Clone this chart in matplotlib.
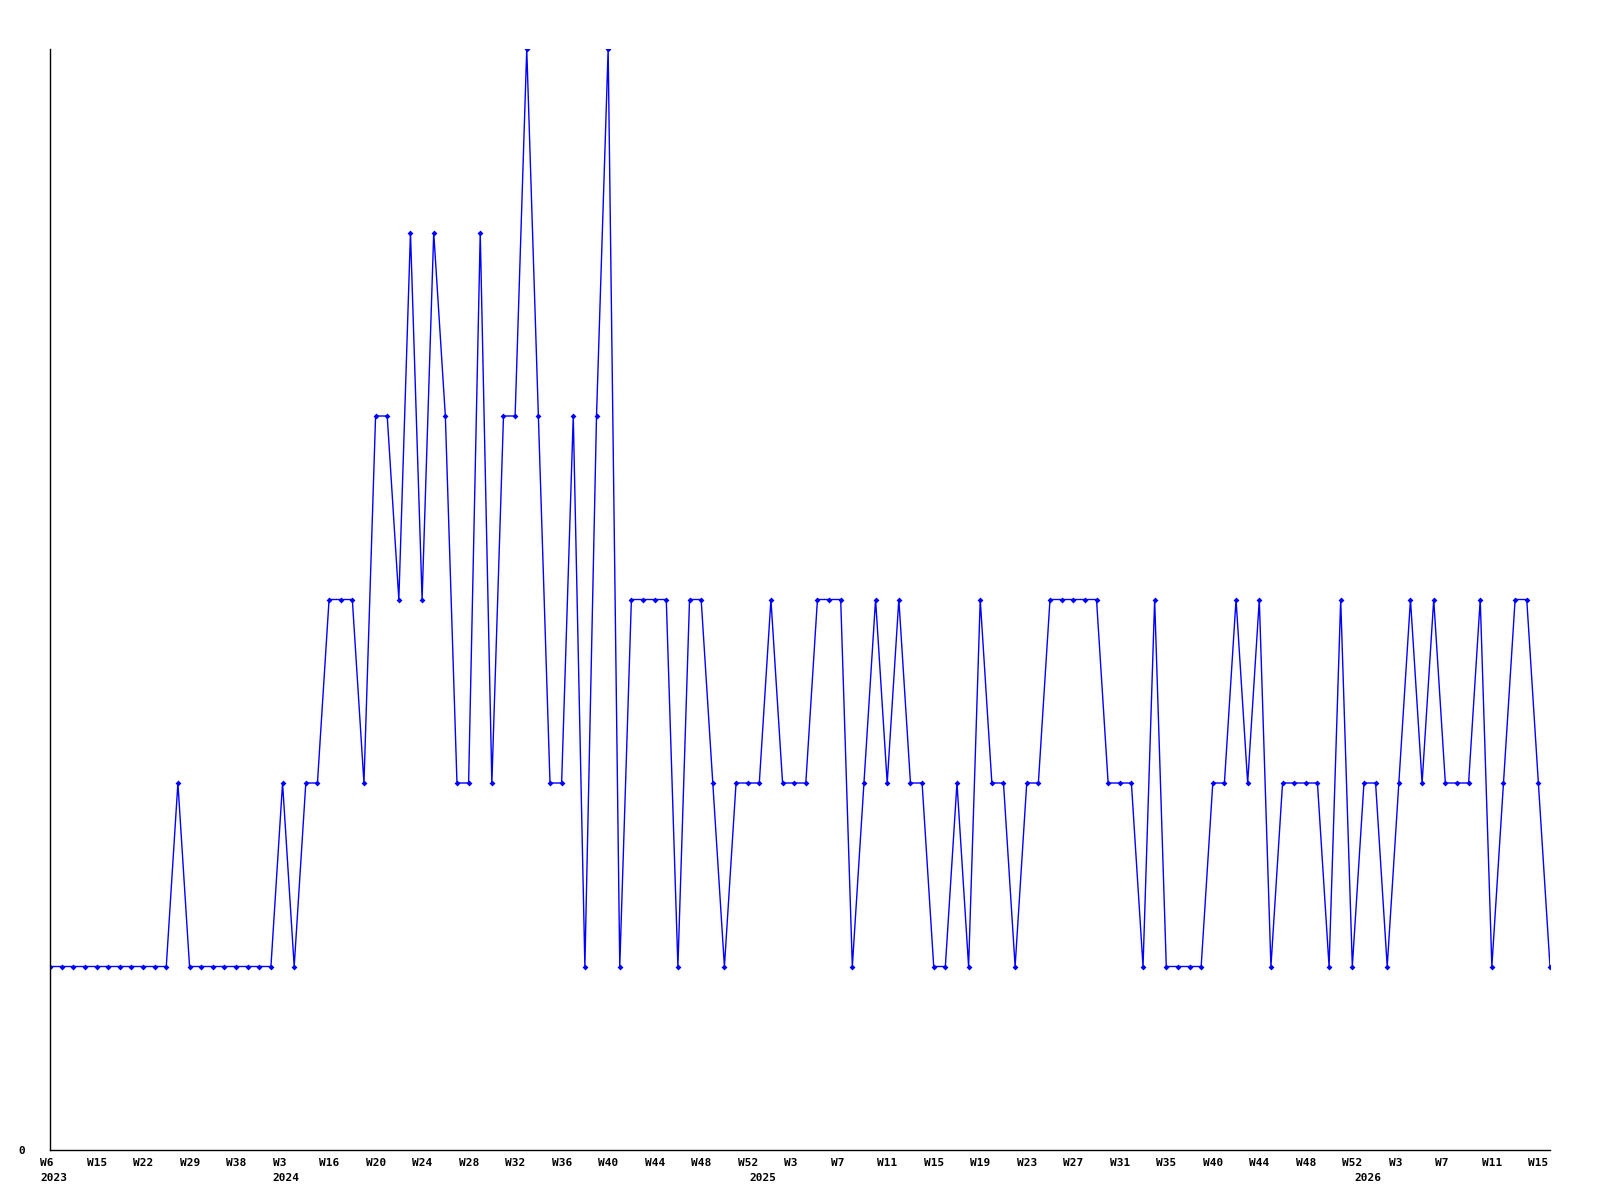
import numpy as np
import matplotlib
matplotlib.use("Agg")
import matplotlib.pyplot as plt
from matplotlib.transforms import ScaledTranslation

# weekly counts
values = [
    1, 1, 1, 1, 1, 1, 1, 1, 1, 1, 1, 2, 1, 1, 1, 1, 1, 1, 1, 1,
    2, 1, 2, 2, 3, 3, 3, 2, 4, 4, 3, 5, 3, 5, 4, 2, 2, 5, 2, 4,
    4, 6, 4, 2, 2, 4, 1, 4, 6, 1, 3, 3, 3, 3, 1, 3, 3, 2, 1, 2,
    2, 2, 3, 2, 2, 2, 3, 3, 3, 1, 2, 3, 2, 3, 2, 2, 1, 1, 2, 1,
    3, 2, 2, 1, 2, 2, 3, 3, 3, 3, 3, 2, 2, 2, 1, 3, 1, 1, 1, 1,
    2, 2, 3, 2, 3, 1, 2, 2, 2, 2, 1, 3, 1, 2, 2, 1, 2, 3, 2, 3,
    2, 2, 2, 3, 1, 2, 3, 3, 2, 1,
]

# week labels every 4th point
week_labels = [
    "W6", "W15", "W22", "W29", "W38", "W3", "W16", "W20", "W24", "W28",
    "W32", "W36", "W40", "W44", "W48", "W52", "W3", "W7", "W11", "W15",
    "W19", "W23", "W27", "W31", "W35", "W40", "W44", "W48", "W52", "W3",
    "W7", "W11", "W15",
]
week_step = 4

# year labels at the first point of each year
year_labels = ["2023", "2024", "2025", "2026"]
year_index = [0, 20, 61, 113]

x = np.arange(len(values))

fig = plt.figure(figsize=(16, 12), dpi=100)
ax = fig.add_axes([50 / 1600, 1 - 1150 / 1200, 1500 / 1600, 1101 / 1200])

ax.plot(x, values, color="#0000ff", linewidth=1.0,
        marker="D", markersize=3, markerfacecolor="#0000ff", markeredgewidth=0)

ax.set_xlim(0, len(values) - 1)
ax.set_ylim(0, 6)

for side in ["top", "right"]:
    ax.spines[side].set_visible(False)
for side in ["left", "bottom"]:
    ax.spines[side].set_color("black")
    ax.spines[side].set_linewidth(1.0)

ax.set_xticks([])
ax.set_yticks([0])
ax.set_yticklabels(["0"], fontfamily="DejaVu Sans Mono", fontweight="bold", fontsize=8)
ax.tick_params(axis="y", length=0, pad=18)

font = dict(fontfamily="DejaVu Sans Mono", fontweight="bold", fontsize=8, ha="left", va="top")

week_tr = ax.get_xaxis_transform() + ScaledTranslation(-0.10, -0.08, fig.dpi_scale_trans)
for i, lab in enumerate(week_labels):
    ax.text(i * week_step, 0, lab, transform=week_tr, clip_on=False, **font)

year_tr = ax.get_xaxis_transform() + ScaledTranslation(-0.10, -0.23, fig.dpi_scale_trans)
for idx, lab in zip(year_index, year_labels):
    ax.text(idx, 0, lab, transform=year_tr, clip_on=False, **font)

fig.savefig("out.png", dpi=100, facecolor="white")
